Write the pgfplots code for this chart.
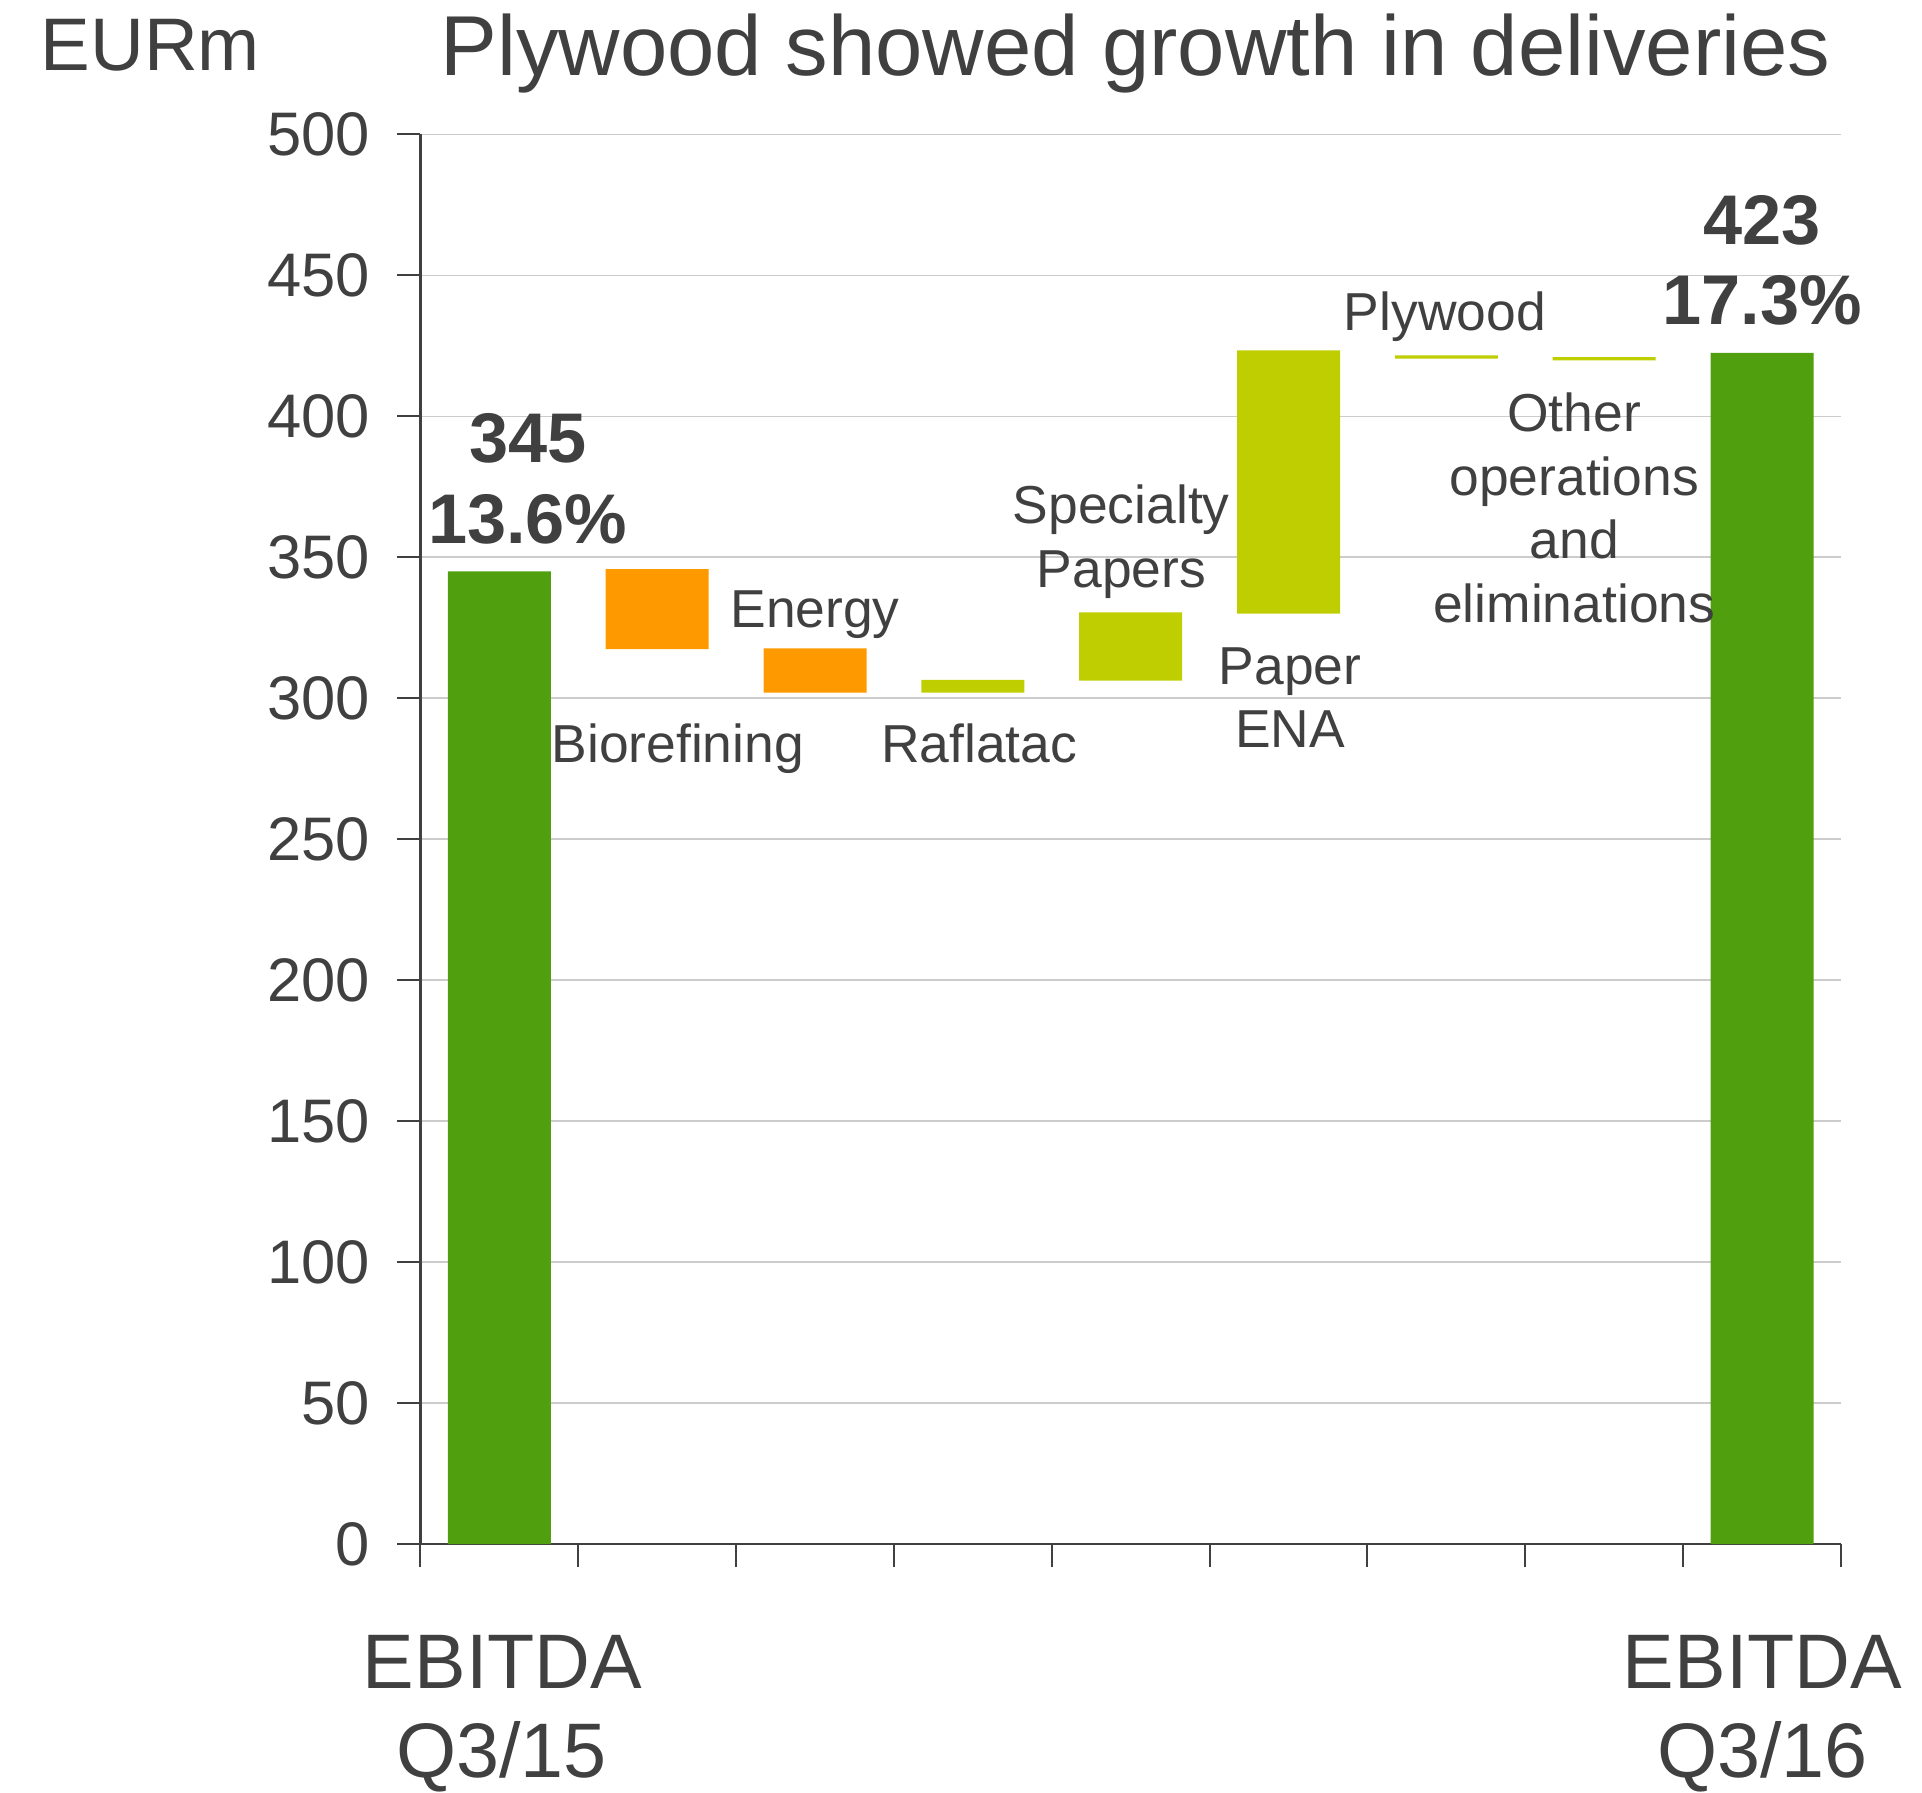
\documentclass[border=0pt]{standalone}
\usepackage{fontspec}
\setmainfont{Liberation Sans}
\usepackage{pgfplots}
\pgfplotsset{compat=1.18}
\definecolor{txt}{HTML}{404040}
\definecolor{dgreen}{HTML}{4F9F0E}
\definecolor{orng}{HTML}{FF9900}
\definecolor{limeg}{HTML}{BFCE00}
\definecolor{gridc}{HTML}{CCCCCC}
\tikzset{
 lbl/.style={text=txt, anchor=base, inner sep=0pt, font=\fontsize{15.2}{18}\selectfont},
 big/.style={text=txt, anchor=base, inner sep=0pt, font=\bfseries\fontsize{20}{24}\selectfont},
 cat/.style={text=txt, anchor=base, inner sep=0pt, font=\fontsize{22}{26}\selectfont},
}
\begin{document}
\begin{tikzpicture}
\useasboundingbox (-42.05mm,-24.8mm) rectangle (150.15mm,154.4mm);
\begin{axis}[
 at={(0,0)}, anchor=south west,
 scale only axis, width=142.05mm, height=140.97mm,
 xmin=-0.5, xmax=8.5, ymin=0, ymax=500,
 axis lines=left, axis line style={-, draw=txt, line width=0.25mm},
 ytick={0,50,...,500},
 xtick={-0.5,0.5,1.5,2.5,3.5,4.5,5.5,6.5,7.5,8.5}, xticklabels={},
 tick align=outside,
 major tick length=2.3mm,
 xtick style={draw=txt, line width=0.2mm},
 ytick style={draw=txt, line width=0.2mm},
 ymajorgrids, grid style={draw=gridc, line width=0.15mm},
 /pgf/number format/assume math mode=true,
 yticklabel style={font=\fontsize{17.5}{21}\selectfont, text=txt, xshift=-1.5mm},
 ybar stacked, bar width=10.3mm,
]
\addplot[draw=none, fill=none] coordinates {(0,0) (1,317.4) (2,302) (3,302) (4,306.2) (5,330) (6,420.4) (7,419.8) (8,0)};
\addplot[draw=none, fill=dgreen] coordinates {(0,345) (1,0) (2,0) (3,0) (4,0) (5,0) (6,0) (7,0) (8,422.5)};
\addplot[draw=none, fill=orng] coordinates {(0,0) (1,28.4) (2,15.7) (3,0) (4,0) (5,0) (6,0) (7,0) (8,0)};
\addplot[draw=none, fill=limeg] coordinates {(0,0) (1,0) (2,0) (3,4.5) (4,24.2) (5,93.4) (6,1.2) (7,1.2) (8,0)};
\end{axis}
% labels placed in the axis frame: x mm = (x+0.5)*15.7833, y mm = y*0.28194
\node[big] at (10.73mm,108.10mm) {345};
\node[big] at (10.73mm,100.09mm) {13.6\%};
\node[big] at (134.16mm,129.92mm) {423};
\node[big] at (134.16mm,121.94mm) {17.3\%};
\node[lbl] at (25.73mm,78.15mm) {Biorefining};
\node[lbl] at (39.46mm,91.63mm) {Energy};
\node[lbl] at (55.87mm,78.15mm) {Raflatac};
\node[lbl] at (70.08mm,102.06mm) {Specialty};
\node[lbl] at (70.08mm,95.69mm) {Papers};
\node[lbl] at (86.96mm,85.99mm) {Paper};
\node[lbl] at (86.96mm,79.62mm) {ENA};
\node[lbl] at (102.43mm,121.34mm) {Plywood};
\node[lbl] at (115.37mm,111.28mm) {Other};
\node[lbl] at (115.37mm,104.88mm) {operations};
\node[lbl] at (115.37mm,98.51mm) {and};
\node[lbl] at (115.37mm,92.14mm) {eliminations};
\node[text=txt, anchor=base, inner sep=0pt, font=\fontsize{24.2}{28}\selectfont] at (71.5mm,146.8mm) {Plywood showed growth in deliveries};
\node[text=txt, anchor=base west, inner sep=0pt, font=\fontsize{21.2}{25}\selectfont] at (-38.05mm,147.3mm) {EURm};
\node[cat] at (8.2mm,-14.4mm) {EBITDA};
\node[cat] at (8.1mm,-23.3mm) {Q3/15};
\node[cat] at (134.2mm,-14.4mm) {EBITDA};
\node[cat] at (134.2mm,-23.3mm) {Q3/16};
\end{tikzpicture}
\end{document}
